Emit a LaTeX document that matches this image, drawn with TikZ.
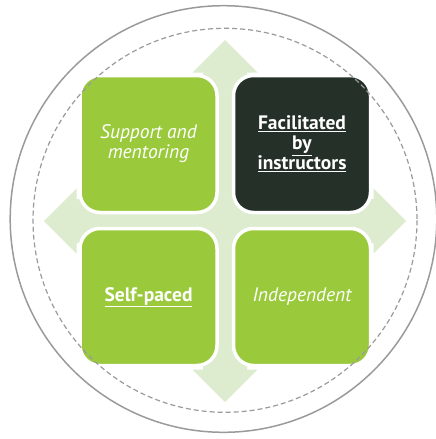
\documentclass[tikz,border=0pt]{standalone}
\usepackage{fontspec}
\setmainfont{PT Sans}
\definecolor{boxgreen}{HTML}{9ACA3C}
\definecolor{boxdark}{HTML}{253028}
\definecolor{lightgreen}{HTML}{DDEBCF}
\definecolor{ringgray}{HTML}{9A9A9A}
\begin{document}
\begin{tikzpicture}[x={(1pt,0)},y={(0,-1pt)},
  quadbox/.style={rounded corners=20pt, minimum width=137pt, minimum height=137pt,
    draw=white, line width=3.5pt, text=white, align=center, inner sep=2pt,
    font=\fontsize{19.5}{20}\selectfont},
  greenbox/.style={quadbox, fill=boxgreen},
  darkbox/.style={quadbox, fill=boxdark},
  ring/.style={draw=ringgray, line width=1.5pt},
  dashring/.style={draw=ringgray, line width=1.2pt, dash pattern=on 5pt off 3pt}]
\useasboundingbox (0,0) rectangle (436,439);
% background quad arrow
\fill[lightgreen, shift={(225,221)}]
  (0,-181) -- (32.5,-148.5) -- (22,-148.5) -- (22,-22) -- (148.5,-22) -- (148.5,-32.5)
  -- (181,0) -- (148.5,32.5) -- (148.5,22) -- (22,22) -- (22,148.5) -- (32.5,148.5)
  -- (0,181) -- (-32.5,148.5) -- (-22,148.5) -- (-22,22) -- (-148.5,22) -- (-148.5,32.5)
  -- (-181,0) -- (-148.5,-32.5) -- (-148.5,-22) -- (-22,-22) -- (-22,-148.5) -- (-32.5,-148.5)
  -- cycle;
% boxes
\node[greenbox] (tl) at (148.5,144) {\itshape Support and\\\itshape mentoring};
\node[darkbox] (tr) at (302,144) {\bfseries\underline{Facilitated}\\\bfseries\underline{by}\\\bfseries\underline{instructors}};
\node[greenbox] (bl) at (148.5,297) {\bfseries\underline{Self-paced}};
\node[greenbox] (br) at (302,297) {\itshape Independent};
% rings
\draw[ring] (223.5,219) circle[radius=213.3];
\draw[dashring] (225,220.3) circle[radius=192];
\end{tikzpicture}
\end{document}
